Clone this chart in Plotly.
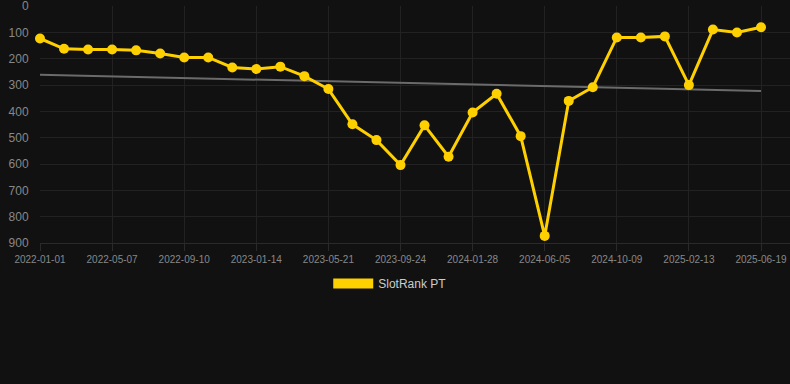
import pandas as pd
import plotly.graph_objects as go

START_DATE = "2022-01-01"
END_DATE = "2025-06-19"
RANK = [123, 162, 165, 165, 168, 180, 195, 195, 233, 239, 230, 266, 315, 449, 509,
        604, 453, 572, 404, 333, 494, 873, 360, 308, 119, 119, 115, 300, 89, 100, 80]
TREND = [261, 322]
TICK_LABELS = ["2022-01-01", "2022-05-07", "2022-09-10", "2023-01-14", "2023-05-21",
               "2023-09-24", "2024-01-28", "2024-06-05", "2024-10-09", "2025-02-13",
               "2025-06-19"]
Y_TICKS = [0, 100, 200, 300, 400, 500, 600, 700, 800, 900]
SERIES_NAME = "SlotRank PT"

dates = pd.date_range(START_DATE, END_DATE, periods=len(RANK))
tick_vals = list(dates[::3])

YELLOW = "#FFD000"
BG = "#111111"
GRID = "#222222"

fig = go.Figure()
fig.add_trace(go.Scatter(
    x=[dates[0], dates[-1]], y=TREND, mode="lines",
    line=dict(color="#6b6b6b", width=2), showlegend=False, hoverinfo="skip"))
fig.add_trace(go.Scatter(
    x=dates, y=RANK, mode="lines+markers",
    line=dict(color=YELLOW, width=3),
    marker=dict(color=YELLOW, size=10),
    cliponaxis=False,
    showlegend=False))
fig.add_trace(go.Scatter(
    x=[None], y=[None], mode="lines", name=SERIES_NAME,
    line=dict(color=YELLOW, width=12), showlegend=True))

span = dates[-1] - dates[0]
x_end = dates[-1] + span * (29 / 721)

fig.update_layout(
    width=790, height=384,
    paper_bgcolor=BG, plot_bgcolor=BG,
    margin=dict(l=40, r=0, t=6, b=141),
    font=dict(family="Arial, Liberation Sans, sans-serif", color="#888888"),
    xaxis=dict(
        type="date", range=[dates[0], x_end],
        tickvals=tick_vals, ticktext=TICK_LABELS,
        showgrid=True, gridcolor=GRID, gridwidth=1,
        zeroline=False, showline=True, linecolor="#2a2a2a",
        ticks="outside", ticklen=7, tickcolor="#2a2a2a",
        tickfont=dict(size=10, color="#888888"),
        ticklabeloverflow="allow",
    ),
    yaxis=dict(
        range=[900, -0.5], tickvals=Y_TICKS,
        showgrid=True, gridcolor=GRID, gridwidth=1,
        zeroline=False, showline=False,
        ticks="outside", ticklen=8, tickcolor=BG,
        tickfont=dict(size=12, color="#888888"),
        ticklabeloverflow="allow",
    ),
    legend=dict(
        orientation="h", x=0.467, xanchor="center", y=-0.11, yanchor="top",
        font=dict(size=12, color="#cccccc"), bgcolor="rgba(0,0,0,0)",
        itemwidth=40,
    ),
)

fig.write_html(
    "out.html",
    config={"displayModeBar": False},
    post_script="document.body.style.margin='0';document.body.style.background='#111111';",
)
